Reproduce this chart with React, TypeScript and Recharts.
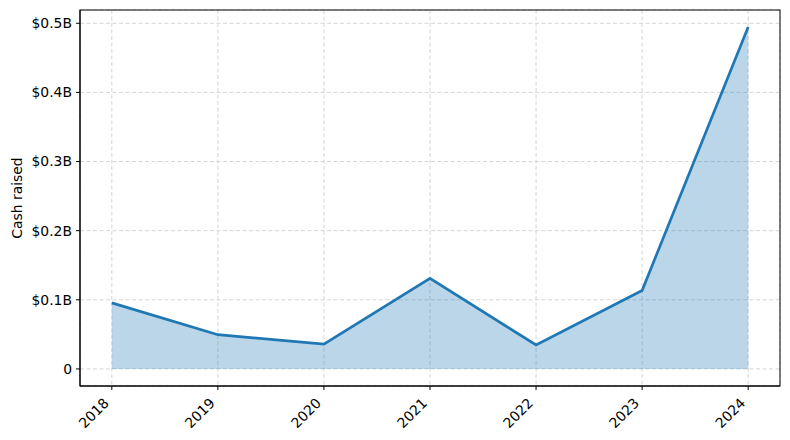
import { Area, CartesianGrid, ComposedChart, XAxis, YAxis, usePlotArea } from "recharts";

const years = [2018, 2019, 2020, 2021, 2022, 2023, 2024];
// cash raised, in billions of dollars
const cashRaised = [0.0955, 0.0495, 0.036, 0.131, 0.0347, 0.1135, 0.4945];
const yTicks = [0, 0.1, 0.2, 0.3, 0.4, 0.5];

const data = years.map((year, i) => ({ year, cash: cashRaised[i] }));

const FONT = "'DejaVu Sans', sans-serif";
const BLUE = "#1f77b4";

const formatY = (v: number) => (v === 0 ? "0" : `$${v.toFixed(1)}B`);

function YearTick(props: any) {
    const { x, y, payload } = props;
    const ax = x - 2;
    const ay = y + 11;
    return (
        <text
            x={ax}
            y={ay}
            transform={`rotate(-45, ${ax}, ${ay})`}
            textAnchor="end"
            fontFamily={FONT}
            fontSize={13.9}
            fill="#000"
        >
            {payload.value}
        </text>
    );
}

function YLabel(props: any) {
    const { viewBox } = props;
    const cx = viewBox.x + 17;
    const cy = viewBox.y + viewBox.height / 2;
    return (
        <text
            x={cx}
            y={cy}
            transform={`rotate(-90, ${cx}, ${cy})`}
            textAnchor="middle"
            dominantBaseline="central"
            fontFamily={FONT}
            fontSize={13.9}
            fill="#000"
        >
            Cash raised
        </text>
    );
}

// axes box round the plot area
function Frame() {
    const plot = usePlotArea();
    if (!plot) return null;
    return (
        <rect
            x={plot.x}
            y={plot.y}
            width={plot.width}
            height={plot.height}
            fill="none"
            stroke="#000"
            strokeWidth={1}
        />
    );
}

export default function App() {
    return (
        <div style={{ position: "absolute", left: 0, top: 0, background: "#fff" }}>
            <ComposedChart
                width={790}
                height={440}
                data={data}
                margin={{ top: 10, right: 10, bottom: 0, left: 0 }}
            >
                <CartesianGrid
                    stroke="#d0d0d0"
                    strokeDasharray="4 2.5"
                    strokeWidth={0.9}
                />

                <XAxis
                    dataKey="year"
                    type="number"
                    domain={[2017.7, 2024.3]}
                    ticks={years}
                    allowDataOverflow
                    height={54}
                    tickSize={4}
                    tickMargin={3}
                    stroke="#000"
                    tick={<YearTick />}
                />

                <YAxis
                    type="number"
                    domain={[-0.0247, 0.5192]}
                    ticks={yTicks}
                    allowDataOverflow
                    width={80}
                    tickSize={4}
                    tickMargin={4}
                    stroke="#000"
                    tickFormatter={formatY}
                    tick={{ fontFamily: FONT, fontSize: 13.9, fill: "#000" }}
                    label={<YLabel />}
                />

                <Area
                    type="linear"
                    dataKey="cash"
                    baseValue={0}
                    stroke={BLUE}
                    strokeWidth={2.7}
                    fill={BLUE}
                    fillOpacity={0.3}
                    dot={false}
                    activeDot={false}
                    isAnimationActive={false}
                />

                <Frame />
            </ComposedChart>
        </div>
    );
}
